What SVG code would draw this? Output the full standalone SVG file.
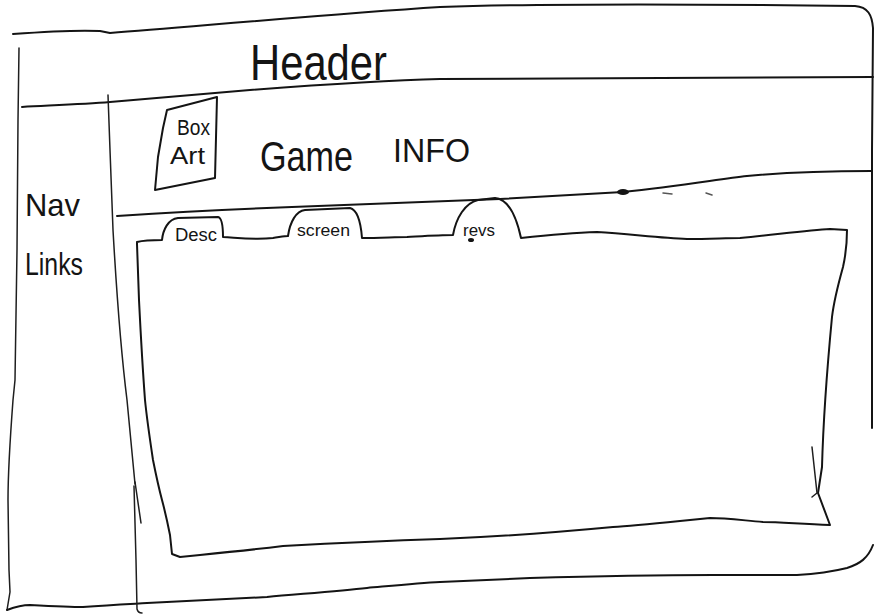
<svg xmlns="http://www.w3.org/2000/svg" width="874" height="614" viewBox="0 0 874 614">
<style>
.ln{fill:none;stroke:#141414;stroke-width:2;stroke-linecap:round;stroke-linejoin:round}
.thin{fill:none;stroke:#1e1e1e;stroke-width:1.5;stroke-linecap:round;stroke-linejoin:round}
.faint{fill:none;stroke:#555;stroke-width:1.5;stroke-linecap:round}
.hw{font-family:"Liberation Sans","DejaVu Sans",sans-serif;fill:#141414}
</style>
<rect width="874" height="614" fill="#ffffff"/>
<g id="frame">
<path class="ln" d="M13,34 C40,32 80,30 100,31 L110,33 C200,26 330,14 440,7 C560,3 700,4 855,6 C868,7 872,15 873,28 L872,150 L872,300 L872,428"/>
<path class="thin" d="M19,48 L18,120 L17,250 L15,380 L13,400 C10,440 8,470 8,500 L9,570 L10,592 L7,610"/>
<path class="ln" d="M7,610 C15,607 22,605 30,605 C50,606 70,607 83,607 C110,605 130,604 147,603 C190,601 230,599 267,597 C300,594 340,591 367,588 C400,585 420,583 440,582 C480,580 505,579 530,578 C600,576 660,575 713,575 C750,575 775,575 797,575 C815,574 835,571 847,568 C860,564 868,558 873,545"/>
</g>
<g id="header">
<path class="ln" d="M22,107 C60,105 85,104 110,102 C170,97 210,93 250,90 C330,84 400,80 440,79 C600,77 750,78 873,77"/>
<text class="hw" x="250" y="80" font-size="50" textLength="137" lengthAdjust="spacingAndGlyphs">Header</text>
</g>
<g id="nav">
<path class="thin" d="M108,95 L110,150 L113,230 C117,300 122,360 127,400 L135,484"/>
<path class="thin" d="M135,482 L141,523"/>
<path class="thin" d="M134,486 L136,560 L137,609 Q138,613 142,613"/>
<text class="hw" x="25" y="216" font-size="32" textLength="55" lengthAdjust="spacingAndGlyphs">Nav</text>
<text class="hw" x="25" y="275" font-size="32" textLength="58" lengthAdjust="spacingAndGlyphs">Links</text>
</g>
<g id="game-info">
<path class="ln" d="M117,216 C180,212 240,209 292,207 C380,203 450,201 500,199 L623,192 C680,186 720,179 747,176 C790,172 830,171 871,171"/>
<ellipse cx="623" cy="192" rx="6" ry="3" fill="#141414"/>
<path class="faint" d="M663,193 L672,194 M706,193 L712,195"/>
<text class="hw" x="260" y="171" font-size="42" textLength="93" lengthAdjust="spacingAndGlyphs">Game</text>
<text class="hw" x="393" y="162" font-size="33" textLength="77" lengthAdjust="spacingAndGlyphs">INFO</text>
</g>
<g id="box-art">
<path class="ln" d="M167,110 L217,97 L215,178 L155,190 L158,157 L163,128 L167,110"/>
<text class="hw" x="177" y="135" font-size="22" textLength="33" lengthAdjust="spacingAndGlyphs">Box</text>
<text class="hw" x="170" y="164" font-size="24" textLength="35" lengthAdjust="spacingAndGlyphs">Art</text>
</g>
<g id="content-panel">
<path class="ln" d="M137,244 L137,242 C145,240 155,240 162,240 C163,230 168,219 178,218 L218,217 Q223,218 223,237 C240,238 255,240 273,238 C280,237 285,236 288,236 C290,222 296,211 305,210 L350,208 C358,210 361,225 362,238 C380,238 395,237 407,237 C425,236 440,235 453,235 C456,218 465,203 478,200 L495,198 C508,199 516,215 521,238 C540,236 570,233 597,232 C630,234 660,238 687,239 C710,239 725,238 740,238 C780,234 810,230 830,229 L847,230 C847,245 845,258 843,267 C838,285 834,300 832,317 C826,380 823,430 822,467 L818,493 L830,525 C800,524 780,522 763,522 C740,520 725,518 710,518 L680,521 C650,524 630,526 613,527 C560,532 490,537 440,539 C380,541 320,544 283,546 C250,550 220,553 200,555 L180,557 L172,554 L170,535 C168,525 166,515 162,500 C158,485 155,470 153,460 C150,440 147,420 145,400 C142,360 140,320 139,300 L137,244"/>
<path class="thin" d="M812,447 L817,493 L812,497"/>
</g>
<g id="tabs">
<text class="hw" x="175" y="241" font-size="18" textLength="42" lengthAdjust="spacingAndGlyphs">Desc</text>
<text class="hw" x="297" y="236" font-size="16" textLength="53" lengthAdjust="spacingAndGlyphs">screen</text>
<text class="hw" x="463" y="236" font-size="17" textLength="32" lengthAdjust="spacingAndGlyphs">revs</text>
<ellipse cx="471" cy="240" rx="3" ry="2" fill="#141414"/>
</g>
<g id="connectors"/>
</svg>
